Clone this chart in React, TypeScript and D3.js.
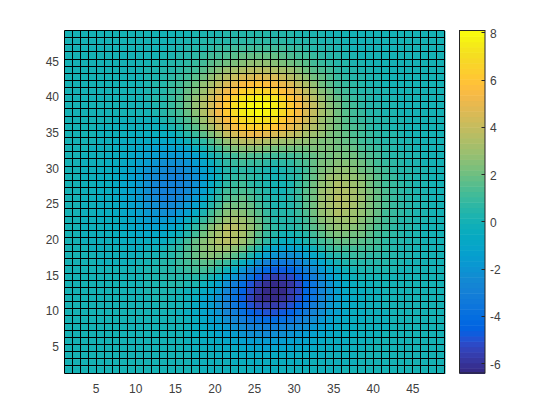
import React from "react";
import * as d3 from "d3";

// Surface height per grid cell in tenths, bottom row first. Hand-estimated values, not measured ones.
const zTenths: number[][] = [
[0,0,0,0,0,0,0,0,0,0,0,0,0,0,0,0,0,-1,-1,-1,-1,-2,-2,-2,-3,-3,-3,-2,-2,-2,-2,-1,-1,-1,-1,0,0,0,0,0,0,0,0,0,0,0,0,0],
[0,0,0,0,0,0,0,0,0,0,0,0,0,0,0,0,-1,-1,-1,-2,-2,-3,-4,-4,-5,-5,-5,-4,-4,-4,-3,-2,-2,-2,-1,-1,-1,0,0,0,0,0,0,0,0,0,0,0],
[0,0,0,0,0,0,0,0,0,0,0,0,0,0,0,0,-1,-1,-2,-3,-4,-5,-6,-6,-7,-7,-7,-6,-6,-5,-5,-4,-3,-2,-2,-1,-1,0,0,0,0,0,0,0,0,0,0,0],
[0,0,0,0,0,0,0,0,0,0,0,0,0,0,0,-1,-1,-2,-3,-4,-6,-7,-9,-10,-11,-12,-11,-11,-10,-9,-8,-6,-5,-4,-3,-2,-1,-1,0,0,0,0,0,0,0,0,0,0],
[0,0,0,0,0,0,0,0,0,0,0,0,0,0,0,-1,-2,-3,-5,-7,-9,-11,-13,-15,-16,-16,-16,-15,-14,-12,-11,-9,-7,-5,-4,-3,-2,-1,-1,0,0,0,0,0,0,0,0,0],
[0,0,0,0,0,0,0,0,0,0,0,0,0,0,0,-1,-3,-5,-7,-10,-13,-16,-19,-21,-23,-24,-23,-22,-20,-18,-16,-13,-10,-8,-6,-4,-3,-2,-1,-1,0,0,0,0,0,0,0,0],
[0,0,0,0,0,0,0,0,0,0,0,0,0,0,0,-1,-4,-7,-10,-13,-17,-21,-25,-28,-30,-31,-31,-30,-27,-24,-21,-17,-13,-10,-7,-5,-4,-2,-1,-1,-1,0,0,0,0,0,0,0],
[0,0,0,0,0,0,0,0,1,1,1,1,1,0,0,-1,-5,-8,-12,-16,-21,-26,-32,-36,-39,-40,-40,-38,-35,-32,-27,-22,-17,-13,-9,-7,-4,-3,-1,-1,-1,0,0,0,0,0,0,0],
[0,0,0,0,0,0,0,0,1,1,1,1,1,0,-1,-3,-6,-10,-15,-20,-26,-32,-39,-44,-48,-49,-49,-47,-44,-39,-33,-27,-21,-16,-12,-8,-5,-3,-2,-1,-1,0,0,0,0,0,0,0],
[0,0,0,0,0,0,0,0,1,1,1,1,2,1,0,-2,-6,-10,-15,-21,-28,-35,-43,-49,-54,-56,-56,-54,-50,-44,-38,-31,-24,-18,-13,-9,-6,-3,-2,-1,0,0,0,0,0,0,0,0],
[0,0,0,0,0,0,0,0,1,1,1,2,2,1,0,-2,-5,-10,-15,-22,-30,-38,-47,-54,-60,-62,-63,-60,-56,-50,-42,-35,-27,-20,-14,-10,-6,-4,-2,-1,0,0,0,0,0,0,0,0],
[0,0,0,0,0,0,0,0,1,1,2,2,3,2,1,-1,-2,-6,-11,-18,-26,-35,-44,-52,-59,-63,-64,-62,-57,-51,-43,-35,-27,-20,-13,-8,-5,-3,-1,-1,0,0,0,0,0,0,0,0],
[0,0,0,0,0,0,0,0,1,1,2,3,3,4,4,3,2,-2,-7,-14,-22,-31,-41,-50,-57,-61,-63,-61,-58,-51,-43,-35,-26,-19,-13,-8,-4,-2,-1,0,0,0,1,1,0,0,0,0],
[0,0,0,0,0,0,0,0,1,1,2,3,4,5,6,6,6,4,1,-5,-12,-20,-30,-39,-47,-52,-55,-54,-51,-46,-38,-31,-22,-16,-9,-5,-1,0,1,1,1,1,1,1,0,0,0,0],
[0,0,0,0,0,0,0,0,0,1,2,3,4,6,8,9,11,11,9,4,-1,-9,-19,-28,-36,-42,-46,-46,-44,-39,-32,-25,-17,-11,-6,-2,1,2,3,3,2,2,1,1,1,0,0,0],
[0,0,0,0,-1,-1,-1,-1,-1,0,1,2,4,6,9,12,15,17,17,13,10,3,-5,-13,-21,-28,-33,-34,-33,-29,-23,-17,-10,-5,0,2,5,6,6,6,4,3,2,1,1,0,0,0],
[0,0,0,0,-1,-1,-1,-1,-1,-1,0,1,3,6,10,14,19,23,25,24,22,17,10,2,-7,-14,-20,-22,-22,-19,-14,-9,-3,2,6,8,9,9,8,7,5,4,3,2,1,0,0,0],
[0,0,0,-1,-1,-2,-2,-2,-3,-3,-2,-1,1,4,8,14,19,25,28,29,29,25,20,13,4,-3,-10,-12,-13,-10,-6,-1,5,9,12,13,13,13,11,9,7,5,3,2,1,1,0,0],
[0,0,-1,-1,-1,-2,-3,-4,-4,-5,-5,-4,-3,1,5,11,18,25,31,34,36,34,30,23,14,7,0,-3,-4,-2,2,7,12,15,18,18,18,17,14,11,8,6,4,3,2,1,1,0],
[0,0,-1,-1,-2,-2,-3,-5,-6,-8,-9,-9,-8,-5,-1,6,13,21,28,33,36,35,32,25,17,10,4,0,0,2,6,11,17,20,23,23,22,20,17,13,10,7,5,3,2,1,1,0],
[0,0,-1,-1,-2,-3,-4,-6,-8,-10,-12,-13,-12,-10,-6,1,8,17,25,31,36,36,33,27,20,13,7,4,4,7,11,16,22,25,28,28,26,23,19,15,11,8,6,4,2,1,1,0],
[0,0,-1,-2,-3,-4,-5,-7,-9,-12,-15,-17,-17,-15,-12,-5,1,9,17,23,31,32,30,25,18,11,6,4,4,8,13,18,25,28,31,31,29,26,21,17,12,9,6,4,3,2,1,0],
[0,0,-1,-2,-3,-4,-6,-8,-11,-14,-18,-20,-22,-21,-18,-13,-6,3,12,19,26,27,26,22,16,10,5,4,5,9,15,21,28,31,34,33,31,27,23,18,13,10,7,5,3,2,1,0],
[0,0,-1,-2,-3,-4,-6,-9,-12,-16,-20,-23,-25,-25,-23,-18,-12,-3,6,13,20,22,22,18,13,7,3,3,5,10,16,22,29,32,35,34,32,28,24,19,14,10,7,5,3,2,1,0],
[0,0,-1,-2,-3,-5,-7,-10,-13,-17,-21,-25,-28,-28,-27,-23,-17,-8,1,8,15,17,18,15,10,5,2,2,4,10,16,22,29,33,36,35,33,29,24,19,14,10,7,5,3,2,1,0],
[0,0,-1,-2,-3,-5,-7,-10,-13,-18,-22,-26,-29,-29,-29,-25,-20,-12,-3,4,11,13,15,12,8,4,1,1,4,9,16,22,29,32,35,34,32,28,23,18,14,10,7,5,3,2,1,0],
[0,0,-1,-2,-3,-5,-7,-10,-13,-18,-22,-26,-29,-30,-30,-26,-22,-15,-7,0,7,9,11,8,5,2,0,1,3,9,15,21,28,31,34,33,31,27,22,17,13,10,7,5,3,2,1,0],
[0,0,-1,-2,-3,-5,-7,-9,-12,-16,-21,-24,-27,-28,-28,-25,-21,-15,-8,-2,5,7,9,7,5,3,1,2,4,8,14,19,26,29,31,30,28,25,20,16,12,9,6,4,3,2,1,0],
[0,0,-1,-2,-3,-4,-6,-8,-11,-15,-19,-22,-25,-26,-26,-23,-20,-14,-8,-2,4,6,8,6,5,3,1,2,4,8,13,18,24,26,28,27,26,22,18,14,11,8,5,4,2,2,1,0],
[0,0,-1,-1,-2,-3,-5,-7,-9,-12,-16,-19,-22,-22,-22,-19,-16,-11,-4,2,7,9,12,10,10,8,6,7,8,11,15,18,23,24,26,25,23,20,16,13,10,7,5,3,2,1,1,0],
[0,0,-1,-1,-2,-3,-4,-6,-8,-10,-13,-16,-18,-18,-18,-15,-12,-6,0,5,10,13,16,15,14,12,11,11,12,14,17,19,22,22,23,22,20,17,14,11,8,6,4,3,2,1,1,0],
[0,0,0,-1,-1,-2,-3,-4,-6,-8,-10,-12,-13,-13,-12,-10,-5,1,8,13,19,23,26,26,25,23,22,21,20,21,22,23,23,23,22,20,18,15,12,9,7,5,3,2,1,1,0,0],
[0,0,0,0,-1,-1,-3,-3,-5,-6,-7,-8,-9,-8,-6,-2,2,8,15,21,28,33,36,37,37,35,33,31,29,28,27,26,24,23,21,18,16,13,10,8,6,4,3,2,1,1,0,0],
[0,0,0,0,-1,-1,-2,-2,-3,-4,-4,-5,-5,-4,0,4,10,16,24,31,38,44,49,50,50,48,46,43,40,37,33,30,27,24,21,18,15,12,9,7,5,4,2,1,1,0,0,0],
[0,0,0,0,-1,-1,-1,-1,-2,-2,-2,-2,-1,2,6,11,17,25,33,41,49,56,61,63,64,63,60,55,50,45,40,35,30,25,21,17,14,11,8,6,4,3,2,1,1,0,0,0],
[0,0,0,0,0,0,-1,-1,-1,-1,-1,-1,2,5,9,15,22,30,39,47,56,62,68,70,72,70,68,62,56,50,44,37,31,26,21,17,13,10,7,5,4,3,2,1,1,0,0,0],
[0,0,0,0,0,0,0,0,0,0,1,3,5,9,13,19,26,35,44,53,62,69,75,78,80,78,75,69,62,54,47,40,33,27,21,16,12,9,6,4,3,2,1,1,1,0,0,0],
[0,0,0,0,0,0,0,0,0,1,1,3,6,10,14,20,27,35,44,53,62,71,75,79,81,79,75,69,62,54,46,39,32,26,20,15,11,8,6,4,3,2,1,1,1,0,0,0],
[0,0,0,0,0,0,0,0,1,1,2,4,6,10,14,20,27,35,43,51,60,66,72,75,77,75,72,66,60,52,44,37,30,24,18,14,10,7,5,3,2,2,1,1,0,0,0,0],
[0,0,0,0,0,0,0,0,1,1,2,3,6,9,13,18,24,31,38,45,53,58,64,66,68,66,64,58,53,46,39,32,26,20,15,12,8,6,4,3,2,1,1,1,0,0,0,0],
[0,0,0,0,0,0,0,0,1,1,2,4,6,9,12,16,21,27,33,39,46,50,55,57,59,57,55,50,46,40,34,28,22,17,13,10,7,5,3,2,1,1,1,1,0,0,0,0],
[0,0,0,0,0,0,0,0,1,1,2,3,5,7,10,13,17,22,27,32,37,41,45,47,48,46,45,41,37,33,28,22,18,14,10,8,5,4,2,2,1,1,0,0,0,0,0,0],
[0,0,0,0,0,0,0,0,1,1,2,3,4,5,7,10,13,17,21,25,29,32,34,36,37,36,34,32,29,25,21,17,14,11,8,6,4,3,2,1,1,1,0,0,0,0,0,0],
[0,0,0,0,0,0,0,0,0,1,1,2,3,4,5,7,10,13,16,19,22,24,26,27,28,27,26,24,22,19,16,13,10,8,6,4,3,2,1,1,1,0,0,0,0,0,0,0],
[0,0,0,0,0,0,0,0,0,0,1,1,2,3,4,5,7,9,11,13,15,17,18,19,19,19,18,17,15,13,11,9,7,5,4,3,2,1,1,0,0,0,0,0,0,0,0,0],
[0,0,0,0,0,0,0,0,0,0,0,1,1,2,3,4,5,6,8,9,10,12,13,13,13,13,13,12,10,9,8,6,5,4,3,2,1,1,1,0,0,0,0,0,0,0,0,0],
[0,0,0,0,0,0,0,0,0,0,0,0,1,1,2,2,3,4,5,5,6,7,8,8,8,8,8,7,6,5,5,4,3,2,2,1,1,1,0,0,0,0,0,0,0,0,0,0],
[0,0,0,0,0,0,0,0,0,0,0,0,0,0,1,1,2,2,3,3,4,4,5,5,5,5,5,4,4,3,3,2,2,1,1,1,1,0,0,0,0,0,0,0,0,0,0,0],
];

const xTicks = [5, 10, 15, 20, 25, 30, 35, 40, 45];
const yTicks = [5, 10, 15, 20, 25, 30, 35, 40, 45];
const barTicks = [-6, -4, -2, 0, 2, 4, 6, 8];
const gridLines = d3.range(1, 50);

const parula: [number, number, number][] = [
[.2081,.1663,.5292],[.2116,.1898,.5777],[.2123,.2138,.6270],[.2081,.2386,.6771],[.1959,.2645,.7279],[.1707,.2919,.7792],[.1253,.3242,.8303],[.0591,.3598,.8683],
[.0117,.3875,.8820],[.0060,.4086,.8828],[.0165,.4266,.8786],[.0329,.4430,.8720],[.0498,.4586,.8641],[.0629,.4737,.8554],[.0723,.4887,.8467],[.0779,.5040,.8384],
[.0793,.5200,.8312],[.0749,.5375,.8263],[.0641,.5570,.8240],[.0488,.5772,.8228],[.0343,.5966,.8199],[.0265,.6137,.8135],[.0239,.6287,.8038],[.0231,.6418,.7913],
[.0228,.6535,.7768],[.0267,.6642,.7607],[.0384,.6743,.7436],[.0590,.6838,.7254],[.0843,.6928,.7062],[.1133,.7015,.6859],[.1453,.7098,.6646],[.1801,.7177,.6424],
[.2178,.7250,.6193],[.2586,.7317,.5954],[.3022,.7376,.5712],[.3482,.7424,.5473],[.3953,.7459,.5244],[.4420,.7481,.5033],[.4871,.7491,.4840],[.5300,.7491,.4661],
[.5709,.7485,.4494],[.6099,.7473,.4337],[.6473,.7456,.4188],[.6834,.7435,.4044],[.7184,.7411,.3905],[.7525,.7384,.3768],[.7858,.7356,.3633],[.8185,.7327,.3498],
[.8507,.7299,.3360],[.8824,.7274,.3217],[.9139,.7258,.3063],[.9450,.7261,.2886],[.9739,.7314,.2666],[.9938,.7455,.2403],[.9990,.7653,.2164],[.9955,.7861,.1967],
[.9880,.8066,.1794],[.9789,.8271,.1633],[.9697,.8481,.1475],[.9626,.8705,.1309],[.9589,.8949,.1132],[.9598,.9218,.0948],[.9661,.9514,.0755],[.9763,.9831,.0538],
];

const palette = parula.map(([r, g, b]) => d3.rgb(r * 255, g * 255, b * 255).formatHex());
const zValues = zTenths.flat().map((v) => v / 10);
const zDomain = d3.extent(zValues) as [number, number];
const color = d3.scaleQuantize<string>().domain(zDomain).range(palette);

const left = 65, right = 445, top = 31, bottom = 373.5;
const barLeft = 459.5, barRight = 485;
const x = d3.scaleLinear().domain([1, 49]).range([left, right]);
const y = d3.scaleLinear().domain([1, 49]).range([bottom, top]);
const yBar = d3.scaleLinear().domain(zDomain).range([bottom, top]);
const barStep = (zDomain[1] - zDomain[0]) / palette.length;
const snap = (v: number) => Math.round(v) - 0.5;

const textColor = "#404040";
const font = "'Liberation Sans', Arial, sans-serif";

export default function App() {
  return (
    <svg width={560} height={420} style={{ position: "absolute", left: 0, top: 0, background: "#fff" }} fontFamily={font} fontSize={12}>
      {zTenths.map((row, j) =>
        row.map((v, i) => (
          <rect key={`${i}-${j}`} x={x(i + 1)} y={y(j + 2)} width={x(i + 2) - x(i + 1) + 0.5} height={y(j + 1) - y(j + 2) + 0.5}
            fill={color(v / 10)} />
        ))
      )}
      {gridLines.map((g) => (
        <g key={g} stroke="#000" strokeWidth={1}>
          <line x1={snap(x(g))} x2={snap(x(g))} y1={snap(top)} y2={snap(bottom)} />
          <line x1={snap(left)} x2={snap(right)} y1={snap(y(g))} y2={snap(y(g))} />
        </g>
      ))}
      {xTicks.map((t) => (
        <text key={t} x={x(t) - 0.5} y={bottom + 19} textAnchor="middle" fill={textColor}>{t}</text>
      ))}
      {yTicks.map((t) => (
        <text key={t} x={left - 6} y={y(t) + 6} textAnchor="end" fill={textColor}>{t}</text>
      ))}
      {palette.map((c, k) => (
        <rect key={c + k} x={barLeft} width={barRight - barLeft}
          y={yBar(zDomain[0] + (k + 1) * barStep)}
          height={yBar(zDomain[0]) - yBar(zDomain[0] + barStep) + 0.5} fill={c} />
      ))}
      <rect x={barLeft} y={top - 0.5} width={barRight - barLeft} height={bottom - top} fill="none" stroke="#262626" strokeWidth={1} />
      {barTicks.map((t) => (
        <g key={t}>
          <line x1={barRight - 3.5} x2={barRight} y1={snap(yBar(t))} y2={snap(yBar(t))} stroke="#262626" />
          <text x={barRight + 5} y={yBar(t) + 4.5} fill={textColor}>{t}</text>
        </g>
      ))}
    </svg>
  );
}
